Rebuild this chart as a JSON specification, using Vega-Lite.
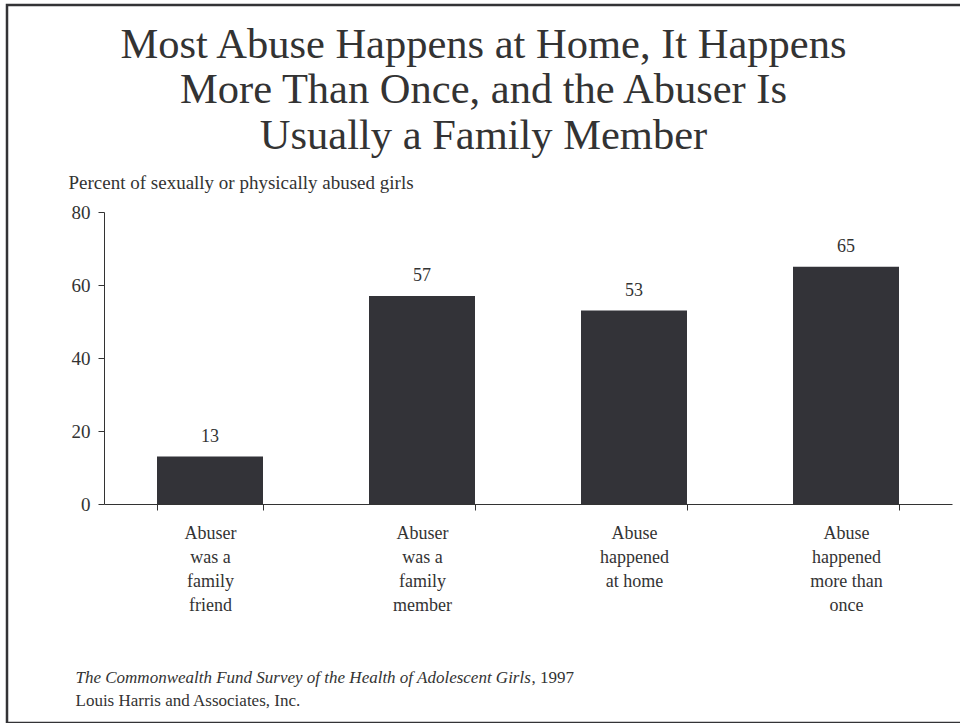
{
  "$schema": "https://vega.github.io/schema/vega-lite/v6.json",
  "width": 956,
  "height": 718,
  "autosize": "none",
  "padding": {"left": 7, "top": 5, "right": -3, "bottom": 0},
  "background": "white",
  "config": {
    "view": {"stroke": "#333336", "strokeWidth": 2.5},
    "font": "Liberation Serif",
    "axis": {
      "labelFont": "Liberation Serif",
      "titleFont": "Liberation Serif",
      "domainColor": "#333333",
      "tickColor": "#333333",
      "labelColor": "#333333",
      "titleColor": "#333333",
      "grid": false,
      "titleFontWeight": "normal"
    }
  },
  "title": {
    "text": ["Most Abuse Happens at Home, It Happens", "More Than Once, and the Abuser Is", "Usually a Family Member"],
    "frame": "group",
    "anchor": "middle",
    "orient": "top",
    "baseline": "alphabetic",
    "lineHeight": 45.5,
    "offset": -186,
    "dx": -1.5,
    "fontSize": 42.5,
    "fontWeight": "normal",
    "font": "Liberation Serif",
    "color": "#333333"
  },
  "data": {
    "values": [
      {"category": "Abuser|was a|family|friend", "percent": 13},
      {"category": "Abuser|was a|family|member", "percent": 57},
      {"category": "Abuse|happened|at home", "percent": 53},
      {"category": "Abuse|happened|more than|once", "percent": 65}
    ]
  },
  "layer": [
    {
      "mark": {"type": "bar", "color": "#333338"},
      "encoding": {
        "x": {
          "field": "category",
          "type": "nominal",
          "sort": null,
          "scale": {"range": [97, 945], "paddingInner": 0.5, "paddingOuter": 0.25},
          "axis": {
            "orient": "bottom",
            "offset": -219,
            "tickBand": "extent",
            "labelExpr": "split(datum.label, '|')",
            "labelAngle": 0,
            "labelFontSize": 18,
            "labelLineHeight": 24,
            "labelBaseline": "top",
            "labelPadding": 14,
            "tickSize": 6,
            "title": "The Commonwealth Fund Survey of the Health of Adolescent Girls",
            "titleFontStyle": "italic",
            "titleFontSize": 17,
            "titleAlign": "left",
            "titleBaseline": "alphabetic",
            "titleX": 68,
            "titleY": 178
          }
        },
        "y": {
          "field": "percent",
          "type": "quantitative",
          "scale": {"domain": [0, 80], "range": [499, 207]},
          "axis": {
            "orient": "left",
            "offset": -97,
            "values": [0, 20, 40, 60, 80],
            "tickSize": 6,
            "labelFontSize": 19,
            "labelPadding": 8,
            "title": "Percent of sexually or physically abused girls",
            "titleAngle": 0,
            "titleAlign": "left",
            "titleBaseline": "alphabetic",
            "titleX": -36,
            "titleY": 183,
            "titleFontSize": 19
          }
        }
      }
    },
    {
      "mark": {"type": "text", "baseline": "alphabetic", "dy": -15, "fontSize": 18, "color": "#333333", "font": "Liberation Serif"},
      "encoding": {
        "x": {
          "field": "category",
          "type": "nominal",
          "sort": null,
          "scale": {"range": [97, 945], "paddingInner": 0.5, "paddingOuter": 0.25},
          "axis": {
            "orient": "top",
            "domain": false,
            "ticks": false,
            "labels": false,
            "title": ", 1997",
            "titleFontSize": 17,
            "titleAlign": "left",
            "titleBaseline": "alphabetic",
            "titleX": 524,
            "titleY": 677
          }
        },
        "y": {
          "field": "percent",
          "type": "quantitative",
          "scale": {"domain": [0, 80], "range": [499, 207]},
          "axis": {
            "orient": "right",
            "domain": false,
            "ticks": false,
            "labels": false,
            "title": "Louis Harris and Associates, Inc.",
            "titleAngle": 0,
            "titleAlign": "left",
            "titleBaseline": "alphabetic",
            "titleFontSize": 17,
            "titleX": -888,
            "titleY": 700
          }
        },
        "text": {"field": "percent", "type": "quantitative"}
      }
    }
  ],
  "resolve": {
    "scale": {"x": "independent", "y": "independent"},
    "axis": {"x": "independent", "y": "independent"}
  }
}
